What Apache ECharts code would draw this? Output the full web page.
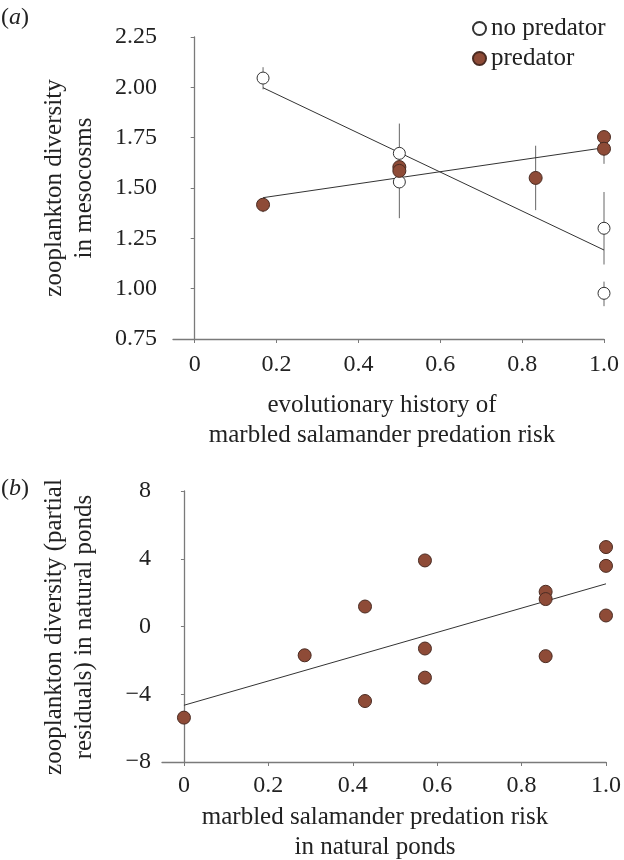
<!DOCTYPE html>
<html>
<head>
<meta charset="utf-8">
<script src="https://cdn.jsdelivr.net/npm/echarts@6/dist/echarts.min.js"></script>
<style>html,body{margin:0;padding:0;background:#fff;}#c{width:624px;height:860px;}</style>
</head>
<body>
<div id="c"></div>
<script>
// ---- Panel (a) data ----
const noPredX = [0.167, 0.5, 0.5, 1.0, 1.0];
const noPredY = [2.046, 1.672, 1.530, 1.300, 0.977];
const predX = [0.167, 0.5, 0.5, 0.833, 1.0, 1.0];
const predY = [1.417, 1.604, 1.585, 1.550, 1.753, 1.695];
const noPredErrX = [0.167, 0.5, 1.0, 1.0];
const noPredErrLo = [1.99, 1.35, 1.12, 0.913];
const noPredErrHi = [2.10, 1.82, 1.48, 1.035];
const predErrX = [0.167, 0.5, 0.833, 1.0];
const predErrLo = [1.38, 1.56, 1.39, 1.62];
const predErrHi = [1.45, 1.63, 1.71, 1.78];
const noPredFitX = [0.167, 1.0];
const noPredFitY = [1.998, 1.192];
const predFitX = [0.167, 1.0];
const predFitY = [1.452, 1.70];
const aXTicks = [0, 0.2, 0.4, 0.6, 0.8, 1.0];
const aXTickLabels = ['0', '0.2', '0.4', '0.6', '0.8', '1.0'];

// ---- Panel (b) data ----
const pondX = [0, 0.286, 0.429, 0.429, 0.571, 0.571, 0.571, 0.857, 0.857, 0.857, 1.0, 1.0, 1.0];
const pondY = [-5.38, -1.70, 1.18, -4.40, 3.90, -1.30, -3.02, 2.05, 1.62, -1.75, 4.69, 3.58, 0.65];
const pondFitX = [0, 1.0];
const pondFitY = [-4.65, 2.52];
const bXTicks = [0, 0.2, 0.4, 0.6, 0.8, 1.0];
const bXTickLabels = ['0', '0.2', '0.4', '0.6', '0.8', '1.0'];

const FONT = 'Liberation Serif';
const TXT = '#222';
const AX = '#7a7a7a';
const BROWN = '#8e4b37';
const BROWN_EDGE = '#4a2b22';

function zip(xs, ys) { return xs.map((x, i) => [x, ys[i]]); }
function errData(xs, lo, hi) { return xs.map((x, i) => [x, lo[i], hi[i]]); }
function tickFmt(ticks, labels) {
  return function (v) {
    for (let i = 0; i < ticks.length; i++) if (Math.abs(v - ticks[i]) < 1e-6) return labels[i];
    return '';
  };
}
function errRender(params, api) {
  const p1 = api.coord([api.value(0), api.value(1)]);
  const p2 = api.coord([api.value(0), api.value(2)]);
  return { type: 'line', shape: { x1: p1[0], y1: p1[1], x2: p2[0], y2: p2[1] },
    style: { stroke: '#666', lineWidth: 1 } };
}
function xAxisCfg(gi, min, ticks, labels, margin) {
  return {
    gridIndex: gi, type: 'value', min: min, max: 1.0,
    axisLine: { onZero: false, lineStyle: { color: AX, width: 1.3 } },
    axisTick: { show: true, length: 4, customValues: ticks, lineStyle: { color: AX } },
    axisLabel: { customValues: ticks, formatter: tickFmt(ticks, labels), color: TXT,
      fontFamily: FONT, fontSize: 24, margin: margin },
    splitLine: { show: false }
  };
}

const chart = echarts.init(document.getElementById('c'), null, { renderer: 'canvas' });
chart.setOption({
  backgroundColor: '#fff',
  animation: false,
  grid: [
    { left: 173, right: 20, top: 37, height: 302 },
    { left: 162, right: 14, top: 491, height: 271 }
  ],
  xAxis: [
    xAxisCfg(0, -0.053, aXTicks, aXTickLabels, 14),
    xAxisCfg(1, -0.052, bXTicks, bXTickLabels, 12)
  ],
  yAxis: [
    { gridIndex: 0, type: 'value', min: 0.75, max: 2.25, interval: 0.25,
      axisLine: { show: true, lineStyle: { color: AX, width: 1.3 } },
      axisTick: { show: true, length: 4, lineStyle: { color: AX } },
      axisLabel: { formatter: v => v.toFixed(2), color: TXT, fontFamily: FONT, fontSize: 24, margin: 16 },
      splitLine: { show: false } },
    { gridIndex: 1, type: 'value', min: -8, max: 8, interval: 4,
      axisLine: { show: true, lineStyle: { color: AX, width: 1.3 } },
      axisTick: { show: true, length: 3, lineStyle: { color: AX } },
      axisLabel: { formatter: v => (v < 0 ? '\u2212' + Math.abs(v) : String(v)), color: TXT, fontFamily: FONT, fontSize: 24, margin: 11 },
      splitLine: { show: false } }
  ],
  legend: {
    orient: 'vertical', left: 472, top: 16, padding: 0, itemGap: 5,
    itemWidth: 13, itemHeight: 13,
    data: ['no predator', 'predator'],
    textStyle: { fontFamily: FONT, fontSize: 25, color: TXT }
  },
  series: [
    { name: 'npErr', type: 'custom', xAxisIndex: 0, yAxisIndex: 0, z: 1,
      renderItem: errRender, data: errData(noPredErrX, noPredErrLo, noPredErrHi) },
    { name: 'pErr', type: 'custom', xAxisIndex: 0, yAxisIndex: 0, z: 1,
      renderItem: errRender, data: errData(predErrX, predErrLo, predErrHi) },
    { name: 'npFit', type: 'line', xAxisIndex: 0, yAxisIndex: 0, z: 2, symbol: 'none',
      lineStyle: { color: '#333', width: 1 }, data: zip(noPredFitX, noPredFitY) },
    { name: 'pFit', type: 'line', xAxisIndex: 0, yAxisIndex: 0, z: 2, symbol: 'none',
      lineStyle: { color: '#333', width: 1 }, data: zip(predFitX, predFitY) },
    { name: 'no predator', type: 'scatter', xAxisIndex: 0, yAxisIndex: 0, z: 3,
      symbol: 'circle', symbolSize: 12,
      itemStyle: { color: '#fff', borderColor: '#333', borderWidth: 1, opacity: 1 },
      data: zip(noPredX, noPredY) },
    { name: 'predator', type: 'scatter', xAxisIndex: 0, yAxisIndex: 0, z: 4,
      symbol: 'circle', symbolSize: 13,
      itemStyle: { color: BROWN, borderColor: BROWN_EDGE, borderWidth: 1, opacity: 1 },
      data: zip(predX, predY) },
    { name: 'pondFit', type: 'line', xAxisIndex: 1, yAxisIndex: 1, z: 2, symbol: 'none',
      lineStyle: { color: '#333', width: 1 }, data: zip(pondFitX, pondFitY) },
    { name: 'ponds', type: 'scatter', xAxisIndex: 1, yAxisIndex: 1, z: 3,
      symbol: 'circle', symbolSize: 13,
      itemStyle: { color: BROWN, borderColor: BROWN_EDGE, borderWidth: 1, opacity: 1 },
      data: zip(pondX, pondY) }
  ],
  graphic: [
    { type: 'text', x: 15, y: 18, style: { text: '{n|(}{i|a}{n|)}', align: 'center', verticalAlign: 'middle',
      rich: { n: { fontFamily: FONT, fontSize: 24, fill: TXT }, i: { fontFamily: FONT, fontSize: 24, fontStyle: 'italic', fill: TXT } } } },
    { type: 'text', x: 15, y: 489, style: { text: '{n|(}{i|b}{n|)}', align: 'center', verticalAlign: 'middle',
      rich: { n: { fontFamily: FONT, fontSize: 24, fill: TXT }, i: { fontFamily: FONT, fontSize: 24, fontStyle: 'italic', fill: TXT } } } },
    { type: 'text', x: 69, y: 188, rotation: Math.PI / 2,
      style: { text: 'zooplankton diversity\nin mesocosms', align: 'center', verticalAlign: 'middle',
        fontFamily: FONT, fontSize: 25, lineHeight: 30, fill: TXT } },
    { type: 'text', x: 69, y: 627, rotation: Math.PI / 2,
      style: { text: 'zooplankton diversity (partial\nresiduals) in natural ponds', align: 'center', verticalAlign: 'middle',
        fontFamily: FONT, fontSize: 25, lineHeight: 30, fill: TXT } },
    { type: 'text', x: 382, y: 420, style: { text: 'evolutionary history of\nmarbled salamander predation risk',
      align: 'center', verticalAlign: 'middle', fontFamily: FONT, fontSize: 25, lineHeight: 30, fill: TXT } },
    { type: 'text', x: 375, y: 832, style: { text: 'marbled salamander predation risk\nin natural ponds',
      align: 'center', verticalAlign: 'middle', fontFamily: FONT, fontSize: 25, lineHeight: 30, fill: TXT } }
  ]
});
</script>
</body>
</html>
